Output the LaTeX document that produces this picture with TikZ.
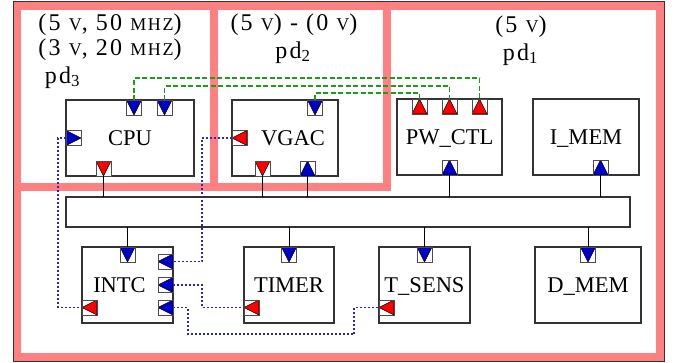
\documentclass[tikz,border=0pt]{standalone}
\usepackage{fontspec}
\setmainfont{Liberation Serif}
\newfontfamily\hdfont[LetterSpace=9]{Liberation Serif}
\newcommand\smc[1]{{\fontsize{18}{18}\selectfont #1}}
\definecolor{pdpink}{RGB}{255,128,128}
\definecolor{pblue}{RGB}{0,0,205}
\definecolor{pred}{RGB}{255,0,0}
\definecolor{ctlgreen}{RGB}{30,155,30}
\definecolor{irqblue}{RGB}{40,40,190}

\begin{document}
\begin{tikzpicture}[
        x=1pt, y=-1pt,
        region/.style={draw=pdpink, line width=8.5pt},
        hdr/.style={font=\hdfont\fontsize{24}{28}\selectfont, inner sep=0pt, anchor=base},
        module/.style={rectangle, draw=black!80, line width=1.2pt, fill=white, inner sep=0pt, outer sep=0pt, minimum height=76pt, font=\fontsize{22.5}{27}\selectfont, text height=15pt, text depth=0pt},
        bus/.style={rectangle, draw=black!80, line width=1.2pt, outer sep=0pt, minimum width=564pt, minimum height=30pt},
        port/.style={rectangle, draw=black!70, line width=0.8pt, fill=white, minimum size=15pt, inner sep=0pt, outer sep=0pt},
        portdn/.style={port, path picture={\filldraw[fill=#1, draw=black, line width=0.6pt] (path picture bounding box.north west) -- (path picture bounding box.north east) -- (path picture bounding box.south) -- cycle;}},
        portup/.style={port, path picture={\filldraw[fill=#1, draw=black, line width=0.6pt] (path picture bounding box.south west) -- (path picture bounding box.south east) -- (path picture bounding box.north) -- cycle;}},
        portlt/.style={port, path picture={\filldraw[fill=#1, draw=black, line width=0.6pt] (path picture bounding box.north east) -- (path picture bounding box.south east) -- (path picture bounding box.west) -- cycle;}},
        portrt/.style={port, path picture={\filldraw[fill=#1, draw=black, line width=0.6pt] (path picture bounding box.north west) -- (path picture bounding box.south west) -- (path picture bounding box.east) -- cycle;}},
        wire/.style={line width=1pt},
        ctl/.style={draw=ctlgreen, line width=1.2pt, dash pattern=on 5pt off 2.5pt},
        irq/.style={draw=irqblue, line width=1.2pt, dash pattern=on 2pt off 2pt}
    ]
        \useasboundingbox (0,0) rectangle (680,362);

        % power domains
        \draw [region] (17,6) rectangle (660,357.5);
        \draw [region] (17,6) rectangle (214,187);
        \draw [region] (214,6) rectangle (387,187);
        \draw [draw=black!80, line width=0.8pt] (13.5,1.7) rectangle (664.5,361.3);

        \node (pd3v1) [hdr] at (110,30) {(5 \smc{V}, 50 \smc{MHZ})};
        \node (pd3v2) [hdr] at (110,55) {(3 \smc{V}, 20 \smc{MHZ})};
        \node (pd3n) [hdr] at (62.5,83) {pd\textsubscript{3}};
        \node (pd2v) [hdr] at (294,30) {(5 \smc{V}) - (0 \smc{V})};
        \node (pd2n) [hdr] at (293,58) {pd\textsubscript{2}};
        \node (pd1v) [hdr] at (521,32) {(5 \smc{V})};
        \node (pd1n) [hdr] at (520.5,60) {pd\textsubscript{1}};

        % modules
        \node (cpu) [module, minimum width=128pt] at (130,138) {CPU};
        \node (vgac) [module, minimum width=106pt] at (285,138) {\hspace*{16pt}VGAC};
        \node (pw) [module, minimum width=105pt] at (449.5,137) {PW\_CTL};
        \node (imem) [module, minimum width=106pt] at (586,137) {I\_MEM};
        \node (bus) [bus] at (348,212) {};
        \node (intc) [module, minimum width=91pt] at (127.5,285) {INTC\hspace*{16pt}};
        \node (timer) [module, minimum width=90pt] at (289,285) {TIMER};
        \node (tsens) [module, minimum width=91pt] at (424.5,285) {T\_SENS};
        \node (dmem) [module, minimum width=106pt] at (588,285) {D\_MEM};

        % ports
        \node (cpuT1) [portdn=pblue, anchor=north] at ([xshift=4pt]cpu.north) {};
        \node (cpuT2) [portdn=pblue, anchor=north] at ([xshift=34.5pt]cpu.north) {};
        \node (cpuL) [portrt=pblue, anchor=west] at (cpu.west) {};
        \node (cpuB) [portdn=pred, anchor=south] at ([xshift=-26.5pt]cpu.south) {};
        \node (vgacT) [portdn=pblue, anchor=north] at ([xshift=30pt]vgac.north) {};
        \node (vgacL) [portlt=pred, anchor=west] at (vgac.west) {};
        \node (vgacB1) [portdn=pred, anchor=south] at ([xshift=-22.5pt]vgac.south) {};
        \node (vgacB2) [portup=pblue, anchor=south] at ([xshift=22.5pt]vgac.south) {};
        \node (pwT1) [portup=pred, anchor=north] at ([xshift=-30pt]pw.north) {};
        \node (pwT2) [portup=pred, anchor=north] at (pw.north) {};
        \node (pwT3) [portup=pred, anchor=north] at ([xshift=30pt]pw.north) {};
        \node (pwB) [portup=pblue, anchor=south] at (pw.south) {};
        \node (imemB) [portup=pblue, anchor=south] at ([xshift=14.5pt]imem.south) {};
        \node (intcT) [portdn=pblue, anchor=north] at (intc.north) {};
        \node (intcR1) [portlt=pblue, anchor=east] at ([yshift=23.5pt]intc.east) {};
        \node (intcR2) [portlt=pblue, anchor=east] at (intc.east) {};
        \node (intcR3) [portlt=pblue, anchor=east] at ([yshift=-22.5pt]intc.east) {};
        \node (intcL) [portlt=pred, anchor=west] at ([yshift=-22.5pt]intc.west) {};
        \node (timerT) [portdn=pblue, anchor=north] at (timer.north) {};
        \node (timerL) [portlt=pred, anchor=west] at ([yshift=-22.5pt]timer.west) {};
        \node (tsensT) [portdn=pblue, anchor=north] at (tsens.north) {};
        \node (tsensL) [portlt=pred, anchor=west] at ([yshift=-22.5pt]tsens.west) {};
        \node (dmemT) [portdn=pblue, anchor=north] at (dmem.north) {};

        % bus links
        \draw [wire] (cpuB.south) -- (cpuB.south |- bus.north);
        \draw [wire] (vgacB1.south) -- (vgacB1.south |- bus.north);
        \draw [wire] (vgacB2.south) -- (vgacB2.south |- bus.north);
        \draw [wire] (pwB.south) -- (pwB.south |- bus.north);
        \draw [wire] (imemB.south) -- (imemB.south |- bus.north);
        \draw [wire] (bus.south -| intcT.north) -- (intcT.north);
        \draw [wire] (bus.south -| timerT.north) -- (timerT.north);
        \draw [wire] (bus.south -| tsensT.north) -- (tsensT.north);
        \draw [wire] (bus.south -| dmemT.north) -- (dmemT.north);

        % power control
        \draw [ctl] (cpuT1.north) -- ++(0,-22) -| (pwT3.north);
        \draw [ctl] (cpuT2.north) -- ++(0,-14) -| (pwT2.north);
        \draw [ctl] (vgacT.north) -- ++(0,-7) -| (pwT1.north);

        % interrupts
        \draw [irq] (cpuL.west) -- ++(-8,0) |- (intcL.west);
        \draw [irq] (vgacL.west) -- ++(-30,0) |- (intcR1.east);
        \draw [irq] (intcR2.east) -- ++(29,0) |- (timerL.west);
        \draw [irq] (intcR3.east) -- ++(15,0) |- (354,334) |- (tsensL.west);
    \end{tikzpicture}
\end{document}
